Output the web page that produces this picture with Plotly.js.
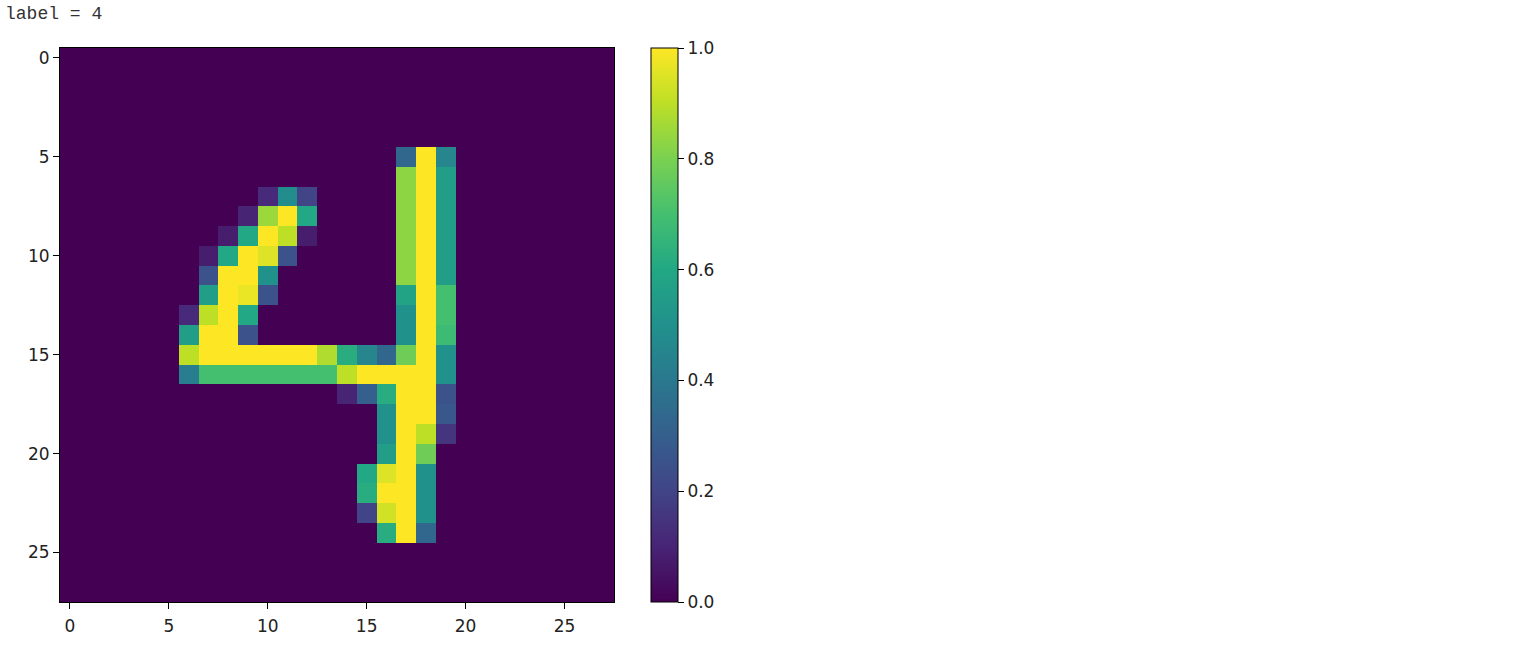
<!DOCTYPE html>
<html>
<head>
<meta charset="utf-8">
<script src="https://cdn.plot.ly/plotly-3.0.1.min.js"></script>
<style>
  html, body { margin: 0; padding: 0; background: #ffffff; }
  #chart { width: 1514px; height: 648px; }
</style>
</head>
<body>
<div id="chart"></div>
<script>
// Title text
const titleText = 'label = 4';

// 28x28 pixel intensities (rows top to bottom, columns left to right)
const pixels = [
  [0,0,0,0,0,0,0,0,0,0,0,0,0,0,0,0,0,0,0,0,0,0,0,0,0,0,0,0],
  [0,0,0,0,0,0,0,0,0,0,0,0,0,0,0,0,0,0,0,0,0,0,0,0,0,0,0,0],
  [0,0,0,0,0,0,0,0,0,0,0,0,0,0,0,0,0,0,0,0,0,0,0,0,0,0,0,0],
  [0,0,0,0,0,0,0,0,0,0,0,0,0,0,0,0,0,0,0,0,0,0,0,0,0,0,0,0],
  [0,0,0,0,0,0,0,0,0,0,0,0,0,0,0,0,0,0,0,0,0,0,0,0,0,0,0,0],
  [0,0,0,0,0,0,0,0,0,0,0,0,0,0,0,0,0,0.33,1,0.45,0,0,0,0,0,0,0,0],
  [0,0,0,0,0,0,0,0,0,0,0,0,0,0,0,0,0,0.83,1,0.55,0,0,0,0,0,0,0,0],
  [0,0,0,0,0,0,0,0,0,0,0.12,0.48,0.2,0,0,0,0,0.83,1,0.55,0,0,0,0,0,0,0,0],
  [0,0,0,0,0,0,0,0,0,0.1,0.85,1,0.6,0,0,0,0,0.83,1,0.55,0,0,0,0,0,0,0,0],
  [0,0,0,0,0,0,0,0,0.08,0.6,1,0.9,0.08,0,0,0,0,0.83,1,0.55,0,0,0,0,0,0,0,0],
  [0,0,0,0,0,0,0,0.08,0.6,1,0.95,0.25,0,0,0,0,0,0.83,1,0.55,0,0,0,0,0,0,0,0],
  [0,0,0,0,0,0,0,0.25,1,1,0.5,0,0,0,0,0,0,0.83,1,0.55,0,0,0,0,0,0,0,0],
  [0,0,0,0,0,0,0,0.55,1,0.97,0.25,0,0,0,0,0,0,0.58,1,0.7,0,0,0,0,0,0,0,0],
  [0,0,0,0,0,0,0.12,0.9,1,0.6,0,0,0,0,0,0,0,0.5,1,0.7,0,0,0,0,0,0,0,0],
  [0,0,0,0,0,0,0.55,1,1,0.25,0,0,0,0,0,0,0,0.5,1,0.68,0,0,0,0,0,0,0,0],
  [0,0,0,0,0,0,0.9,1,1,1,1,1,1,0.88,0.62,0.45,0.33,0.78,1,0.5,0,0,0,0,0,0,0,0],
  [0,0,0,0,0,0,0.42,0.7,0.7,0.7,0.7,0.7,0.7,0.7,0.9,1,1,1,1,0.5,0,0,0,0,0,0,0,0],
  [0,0,0,0,0,0,0,0,0,0,0,0,0,0,0.1,0.3,0.62,1,1,0.25,0,0,0,0,0,0,0,0],
  [0,0,0,0,0,0,0,0,0,0,0,0,0,0,0,0,0.5,1,1,0.27,0,0,0,0,0,0,0,0],
  [0,0,0,0,0,0,0,0,0,0,0,0,0,0,0,0,0.5,1,0.9,0.15,0,0,0,0,0,0,0,0],
  [0,0,0,0,0,0,0,0,0,0,0,0,0,0,0,0,0.55,1,0.78,0,0,0,0,0,0,0,0,0],
  [0,0,0,0,0,0,0,0,0,0,0,0,0,0,0,0.6,0.95,1,0.5,0,0,0,0,0,0,0,0,0],
  [0,0,0,0,0,0,0,0,0,0,0,0,0,0,0,0.62,1,1,0.5,0,0,0,0,0,0,0,0,0],
  [0,0,0,0,0,0,0,0,0,0,0,0,0,0,0,0.2,0.93,1,0.5,0,0,0,0,0,0,0,0,0],
  [0,0,0,0,0,0,0,0,0,0,0,0,0,0,0,0,0.62,1,0.33,0,0,0,0,0,0,0,0,0],
  [0,0,0,0,0,0,0,0,0,0,0,0,0,0,0,0,0,0,0,0,0,0,0,0,0,0,0,0],
  [0,0,0,0,0,0,0,0,0,0,0,0,0,0,0,0,0,0,0,0,0,0,0,0,0,0,0,0],
  [0,0,0,0,0,0,0,0,0,0,0,0,0,0,0,0,0,0,0,0,0,0,0,0,0,0,0,0]
];

// Tick values
const xTicks = [0, 5, 10, 15, 20, 25];
const yTicks = [0, 5, 10, 15, 20, 25];
const cbTicks = [0, 0.2, 0.4, 0.6, 0.8, 1.0];

// matplotlib viridis
const viridis = [
  [0.0, '#440154'], [0.1, '#482475'], [0.2, '#414487'], [0.3, '#355f8d'],
  [0.4, '#2a788e'], [0.5, '#21918c'], [0.6, '#22a884'], [0.7, '#44bf70'],
  [0.8, '#7ad151'], [0.9, '#bddf26'], [1.0, '#fde725']
];

const tickFont = { family: 'DejaVu Sans', size: 17, color: '#222222' };

const trace = {
  type: 'heatmap',
  z: pixels,
  zmin: 0,
  zmax: 1,
  colorscale: viridis,
  colorbar: {
    x: (651 - 60) / 554,
    xanchor: 'left',
    xref: 'paper',
    y: 0.5,
    yanchor: 'middle',
    len: 1,
    lenmode: 'fraction',
    thickness: 27,
    thicknessmode: 'pixels',
    outlinewidth: 1,
    outlinecolor: '#000000',
    tickmode: 'array',
    tickvals: cbTicks,
    ticktext: cbTicks.map(v => v.toFixed(1)),
    ticks: 'outside',
    ticklen: 6,
    tickwidth: 1,
    tickcolor: '#000000',
    tickfont: tickFont,
    xpad: 0,
    ypad: 0
  }
};

const layout = {
  width: 1514,
  height: 648,
  paper_bgcolor: '#ffffff',
  plot_bgcolor: '#ffffff',
  margin: { l: 60, r: 900, t: 48, b: 46, pad: 0 },
  title: {
    text: titleText,
    x: 5 / 1514,
    xanchor: 'left',
    xref: 'container',
    y: 1 - 13 / 648,
    yanchor: 'middle',
    yref: 'container',
    font: { family: 'Liberation Mono', size: 18, color: '#333333' }
  },
  xaxis: {
    range: [-0.5, 27.5],
    tickmode: 'array',
    tickvals: xTicks,
    ticktext: xTicks.map(String),
    ticks: 'outside',
    ticklen: 6,
    tickwidth: 1,
    tickcolor: '#000000',
    ticklabelstandoff: 3,
    showline: true,
    mirror: true,
    linecolor: '#000000',
    linewidth: 1,
    showgrid: false,
    zeroline: false,
    tickfont: tickFont,
    fixedrange: true
  },
  yaxis: {
    range: [27.5, -0.5],
    tickmode: 'array',
    tickvals: yTicks,
    ticktext: yTicks.map(String),
    ticks: 'outside',
    ticklen: 6,
    tickwidth: 1,
    tickcolor: '#000000',
    showline: true,
    mirror: true,
    linecolor: '#000000',
    linewidth: 1,
    showgrid: false,
    zeroline: false,
    tickfont: tickFont,
    fixedrange: true
  }
};

Plotly.newPlot('chart', [trace], layout, { displayModeBar: false, staticPlot: true });
</script>
</body>
</html>
